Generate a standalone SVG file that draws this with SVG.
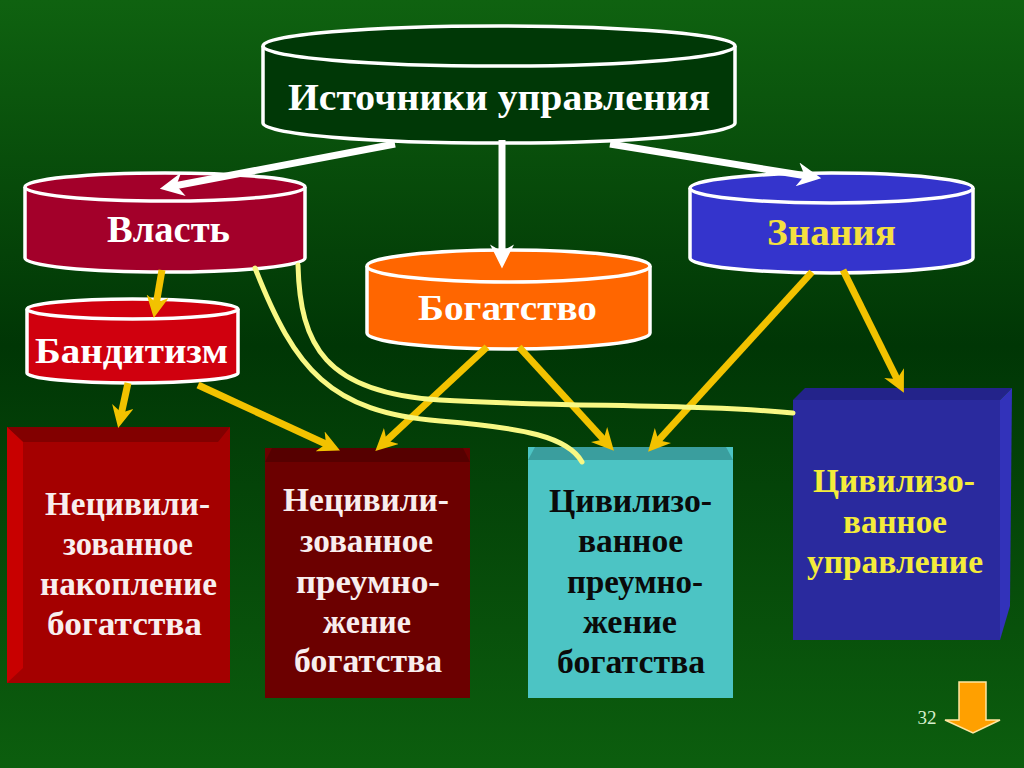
<svg xmlns="http://www.w3.org/2000/svg" width="1024" height="768" viewBox="0 0 1024 768">
<defs>
<linearGradient id="bg" x1="0" y1="0" x2="0" y2="1">
<stop offset="0" stop-color="#0f6210"/>
<stop offset="0.45" stop-color="#003605"/>
<stop offset="1" stop-color="#0c5e0e"/>
</linearGradient>
<marker id="yh" markerUnits="userSpaceOnUse" markerWidth="22" markerHeight="22" viewBox="0 0 10 10" refX="4" refY="5" orient="auto">
<path d="M0,0 L10,5 L0,10 L3,5 z" fill="#f2c200"/>
</marker>
<marker id="wh" markerUnits="userSpaceOnUse" markerWidth="26" markerHeight="24" viewBox="0 0 10 10" refX="4" refY="5" orient="auto">
<path d="M0,0 L10,5 L0,10 L3,5 z" fill="#ffffff"/>
</marker>
<style>
.t{font-family:"Liberation Serif","Times New Roman",serif;font-weight:bold;text-anchor:middle}
.cyl{stroke:#ffffff;stroke-width:3.5}
.ya{fill:none;stroke:#f2c200;stroke-width:7;marker-end:url(#yh)}
.wa{fill:none;stroke:#ffffff;stroke-width:7;marker-end:url(#wh)}
.cv{fill:none;stroke:#f8f884;stroke-width:5;stroke-linecap:round}
</style>
</defs>
<rect width="1024" height="768" fill="url(#bg)"/>

<g id="sources">
<path class="cyl" d="M263,46 L263,123 A236,20 0 0 0 735,123 L735,46" fill="#003806"/>
<ellipse class="cyl" cx="499" cy="46" rx="236" ry="20" fill="#003806"/>
<text class="t" x="499" y="110" font-size="38" fill="#ffffff" textLength="422" lengthAdjust="spacingAndGlyphs">Источники управления</text>
</g>

<g id="vlast">
<path class="cyl" d="M25,187 L25,258 A140,14 0 0 0 305,258 L305,187" fill="#a3002a"/>
<ellipse class="cyl" cx="165" cy="187" rx="140" ry="14" fill="#a3002a"/>
<text class="t" x="168.5" y="242" font-size="38" fill="#ffffff" textLength="123" lengthAdjust="spacingAndGlyphs">Власть</text>
</g>

<g id="banditizm">
<path class="cyl" d="M27,309 L27,373 A105.5,10 0 0 0 238,373 L238,309" fill="#d0000e"/>
<ellipse class="cyl" cx="132.5" cy="309" rx="105.5" ry="10" fill="#d0000e"/>
<text class="t" x="131.5" y="363" font-size="36" fill="#ffffff" textLength="193" lengthAdjust="spacingAndGlyphs">Бандитизм</text>
</g>

<g id="bogatstvo">
<path class="cyl" d="M367,266 L367,333 A141.5,16 0 0 0 650,333 L650,266" fill="#ff6600"/>
<ellipse class="cyl" cx="508.5" cy="266" rx="141.5" ry="16" fill="#ff6600"/>
<text class="t" x="507.5" y="320" font-size="36" fill="#ffffff" textLength="179" lengthAdjust="spacingAndGlyphs">Богатство</text>
</g>

<g id="znaniya">
<path class="cyl" d="M690,188 L690,258 A141.5,15 0 0 0 973,258 L973,188" fill="#3434cc"/>
<ellipse class="cyl" cx="831.5" cy="188" rx="141.5" ry="15" fill="#3434cc"/>
<text class="t" x="831.5" y="245" font-size="38" fill="#f4e040" textLength="129" lengthAdjust="spacingAndGlyphs">Знания</text>
</g>

<g id="box1">
<rect x="7" y="427" width="223" height="256" fill="#a40000"/>
<polygon points="7,427 230,427 218,442 23,442" fill="#820000"/>
<polygon points="7,427 23,442 23,668 7,683" fill="#c80000"/>
<g class="t" font-size="33" fill="#f8eeee">
<text x="127.5" y="515" textLength="165" lengthAdjust="spacingAndGlyphs">Нецивили-</text>
<text x="128" y="555" textLength="130" lengthAdjust="spacingAndGlyphs">зованное</text>
<text x="128.5" y="595" textLength="177" lengthAdjust="spacingAndGlyphs">накопление</text>
<text x="124.5" y="635" textLength="155" lengthAdjust="spacingAndGlyphs">богатства</text>
</g>
</g>

<g id="box2">
<rect x="265" y="448" width="205" height="250" fill="#6c0000"/>
<polygon points="272,448 463,448 470,462 265,462" fill="#560000"/>
<g class="t" font-size="33" fill="#f8eeee">
<text x="366" y="511" textLength="166" lengthAdjust="spacingAndGlyphs">Нецивили-</text>
<text x="366.5" y="552" textLength="133" lengthAdjust="spacingAndGlyphs">зованное</text>
<text x="368" y="593" textLength="144" lengthAdjust="spacingAndGlyphs">преумно-</text>
<text x="367" y="633" textLength="88" lengthAdjust="spacingAndGlyphs">жение</text>
<text x="368" y="672" textLength="148" lengthAdjust="spacingAndGlyphs">богатства</text>
</g>
</g>

<g id="box3">
<rect x="528" y="447" width="205" height="251" fill="#4cc4c4"/>
<polygon points="535,447 726,447 733,460 528,460" fill="#3a9e9e"/>
<g class="t" font-size="33" fill="#0a0a0a">
<text x="630.5" y="512" textLength="163" lengthAdjust="spacingAndGlyphs">Цивилизо-</text>
<text x="630.5" y="552" textLength="105" lengthAdjust="spacingAndGlyphs">ванное</text>
<text x="635" y="593" textLength="136" lengthAdjust="spacingAndGlyphs">преумно-</text>
<text x="630" y="633" textLength="94" lengthAdjust="spacingAndGlyphs">жение</text>
<text x="631" y="673" textLength="148" lengthAdjust="spacingAndGlyphs">богатства</text>
</g>
</g>

<g id="box4">
<rect x="793" y="400" width="207" height="240" fill="#2a2a9e"/>
<polygon points="793,400 805,388 1012,388 1000,400" fill="#23238a"/>
<polygon points="1000,400 1012,388 1010,606 1000,640" fill="#3232ba"/>
<g class="t" font-size="33" fill="#f4ec3a">
<text x="894" y="492" textLength="162" lengthAdjust="spacingAndGlyphs">Цивилизо-</text>
<text x="895" y="533" textLength="104" lengthAdjust="spacingAndGlyphs">ванное</text>
<text x="895" y="573" textLength="176" lengthAdjust="spacingAndGlyphs">управление</text>
</g>
</g>

<g id="connectors">
<path class="wa" d="M395,144 L174,186"/>
<path class="wa" d="M502,140 L502,254"/>
<path class="wa" d="M610,144 L807,176"/>
<path class="ya" d="M162,270 L156,305"/>
<path class="ya" d="M128,383 L121,415"/>
<path class="ya" d="M198,385 L328,445"/>
<path class="ya" d="M487,347 L385,442"/>
<path class="ya" d="M519,347 L605,441"/>
<path class="ya" d="M812,272 L657,442"/>
<path class="ya" d="M843,270 L898,381"/>
<path class="cv" d="M255,268 C295,370 330,412 440,421 C525,428 568,437 582,462"/>
<path class="cv" d="M298,265 C300,345 325,393 440,400 C560,407 700,404 793,413"/>
</g>

<g id="nav">
<text x="927" y="724" font-family="Liberation Serif, serif" font-size="19" fill="#d6f0cc" text-anchor="middle">32</text>
<polygon points="959,682 986,682 986,720 1000,720 973,733 945,720 959,720" fill="#ffa000" stroke="#ffe6a0" stroke-width="1.5"/>
</g>
</svg>
